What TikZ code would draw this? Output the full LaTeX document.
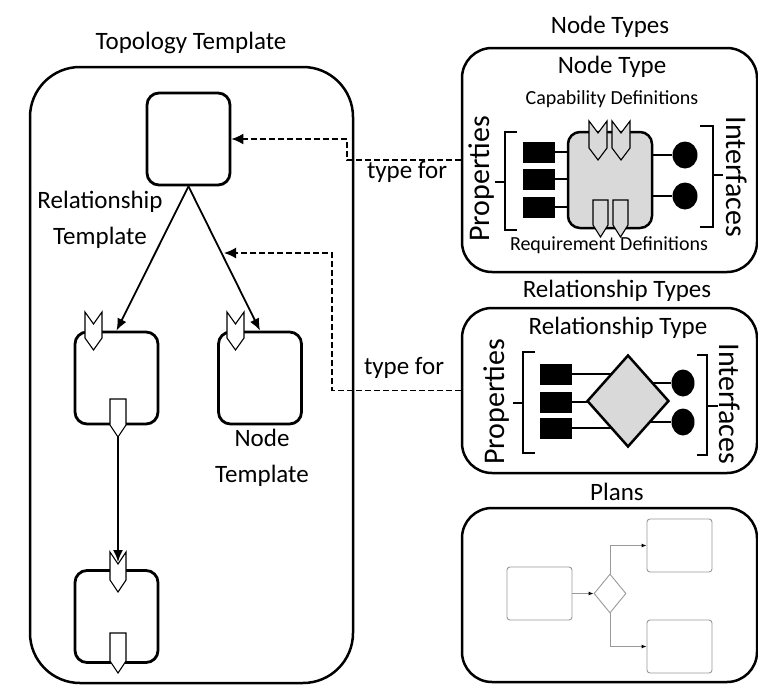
\documentclass[tikz,border=0pt]{standalone}
\usepackage{fontspec}
\setmainfont{Carlito}
\usetikzlibrary{arrows.meta,shapes.geometric,calc}

\newcommand{\capmark}[5]{\filldraw[fill=#5,line width=1.1pt] (#1,#2) -- ++(#3/2,12) -- ++(#3/2,-12) -- ++(0,#4-12) -- ++(-#3/2,12) -- ++(-#3/2,-12) -- cycle;}
\newcommand{\reqmark}[5]{\filldraw[fill=#5,line width=1.1pt] (#1,#2) -- ++(#3,0) -- ++(0,#4-12) -- ++(-#3/2,12) -- ++(-#3/2,-12) -- cycle;}

\begin{document}
\begin{tikzpicture}[x=1pt,y=-1pt,
  big/.style={font=\fontsize{25}{36}\selectfont},
  small/.style={font=\fontsize{20}{24}\selectfont},
  side/.style={font=\fontsize{30}{36}\selectfont},
  frame/.style={draw,line width=2.5pt,rounded corners=30pt,inner sep=0pt},
  tmpl/.style={draw,line width=2.8pt,rounded corners=12pt,minimum width=83pt,minimum height=92pt,inner sep=0pt},
  rel/.style={line width=1.8pt,-{Latex[length=12pt,width=10pt]}},
  typefor/.style={line width=1.6pt,dash pattern=on 6pt off 3pt,-{Latex[length=12pt,width=11pt]}},
  prop/.style={fill=black,inner sep=0pt,minimum width=32pt,minimum height=21pt},
  iface/.style={ellipse,fill=black,inner sep=0pt,minimum width=25pt,minimum height=27pt},
  pin/.style={line width=2.6pt},
  brack/.style={line width=1.8pt},
  plan/.style={draw=gray!80,line width=0.9pt,rounded corners=3pt,minimum width=65pt,minimum height=53pt,inner sep=0pt},
  planarrow/.style={draw=gray!80,line width=0.9pt,-{Latex[length=5pt,width=4pt,color=black]}}
]
\useasboundingbox (0,0) rectangle (758,691);

\node[frame,rounded corners=50pt,minimum width=323pt,minimum height=616pt] (topo) at (191.5,375) {};
\node[big] at (191,43) {Topology Template};
\node[tmpl] (tnode) at (188.5,139) {};
\node[tmpl] (midL) at (116.5,378) {};
\node[tmpl] (midR) at (260,378) {};
\node[tmpl] (botN) at (116.5,616.5) {};
\node[big,align=center] at (100,220) {Relationship\\Template};
\node[big,align=center] at (262,458) {Node\\Template};

\draw[rel] (tnode.south) -- (midL.north);
\draw[rel] (tnode.south) -- (midR.north);

\capmark{85}{312}{17}{38}{white}
\capmark{227}{312}{17}{38}{white}
\capmark{110}{552}{16}{40}{white}
\reqmark{110}{399}{16}{38}{white}
\reqmark{110}{633}{16}{40}{white}

\coordinate (rqL) at (118,437);
\coordinate (cpB) at (118,562);
\draw[rel] (rqL) -- (cpB);

% node types
\node[big] at (610,27) {Node Types};
\node[frame,minimum width=295pt,minimum height=224pt] (ntbox) at (609.5,160) {};
\node[big] at (612,67) {Node Type};
\node[small] at (612,99) {Capability Definitions};
\node[small] at (609,245) {Requirement Definitions};
\node[side,rotate=90] at (482,179) {Properties};
\node[side,rotate=-90] at (737,177) {Interfaces};
\draw[brack] (517,132) -- (505,132) -- (505,230) -- (517,230) (505,182) -- (495,182);
\draw[brack] (700,126) -- (713,126) -- (713,227) -- (700,227) (713,175) -- (723,175);

\node[draw,line width=2.5pt,fill=gray!30,rounded corners=12pt,minimum width=84pt,minimum height=96pt,inner sep=0pt] (ntcore) at (610,180) {};
\node[prop] (np1) at (539,152) {};
\node[prop] (np2) at (539,179) {};
\node[prop] (np3) at (539,207) {};
\node[iface] (ni1) at (685,155) {};
\node[iface] (ni2) at (685,196) {};
\draw[pin] (np1) -- (np1 -| ntcore.west);
\draw[pin] (np2) -- (np2 -| ntcore.west);
\draw[pin] (np3) -- (np3 -| ntcore.west);
\draw[pin] (ni1) -- (ni1 -| ntcore.east);
\draw[pin] (ni2) -- (ni2 -| ntcore.east);
\capmark{589}{121}{18}{39}{gray!30}
\capmark{612}{121}{18}{39}{gray!30}
\reqmark{593}{200}{15}{37}{gray!30}
\reqmark{613}{200}{15}{37}{gray!30}

% relationship types
\node[big] at (617,291) {Relationship Types};
\node[frame,minimum width=295pt,minimum height=165pt] (rtbox) at (609.5,390.5) {};
\node[big] at (618,328) {Relationship Type};
\node[side,rotate=90] at (497,402) {Properties};
\node[side,rotate=-90] at (730,404) {Interfaces};
\draw[brack] (535,352) -- (523,352) -- (523,453) -- (535,453) (523,403) -- (513,403);
\draw[brack] (697,355) -- (707,355) -- (707,455) -- (697,455) (707,406) -- (718,406);

\coordinate (rc) at (628,401);
\node[prop] (rp1) at (556,374) {};
\node[prop] (rp2) at (556,402) {};
\node[prop] (rp3) at (556,428) {};
\node[iface,minimum width=23pt] (ri1) at (683,383) {};
\node[iface,minimum width=23pt] (ri2) at (683,422) {};
\draw[pin] (rp1) -- (rp1 -| rc);
\draw[pin] (rp2) -- (rp2 -| rc);
\draw[pin] (rp3) -- (rp3 -| rc);
\draw[pin] (ri1) -- (ri1 -| rc);
\draw[pin] (ri2) -- (ri2 -| rc);
\node[diamond,draw,fill=gray!30,line width=2.5pt,minimum width=82pt,minimum height=92pt,inner sep=0pt] (rcore) at (rc) {};

% plans
\node[big] at (617,492) {Plans};
\node[frame,minimum width=295pt,minimum height=174pt] (plbox) at (609.5,595) {};
\node[plan] (pstart) at (539.5,593.5) {};
\node[diamond,draw=gray!80,line width=0.9pt,minimum width=32pt,minimum height=39pt,inner sep=0pt] (pdec) at (610,593.5) {};
\node[plan] (ptop) at (679.5,545.5) {};
\node[plan] (pbot) at (679.5,646.5) {};
\draw[planarrow] (pstart) -- (pdec);
\draw[planarrow] (pdec.north) |- (ptop);
\draw[planarrow] (pdec.south) |- (pbot);

% type for
\draw[typefor] (ntbox.west) -- (347,160) -- (347,139) -- (tnode.east);
\node[big] at (407,172) {type for};
\coordinate (rhit) at (224,253);
\draw[typefor] (rtbox.west) -| (332,253) -- (rhit);
\node[big] at (404,368) {type for};
\end{tikzpicture}
\end{document}
